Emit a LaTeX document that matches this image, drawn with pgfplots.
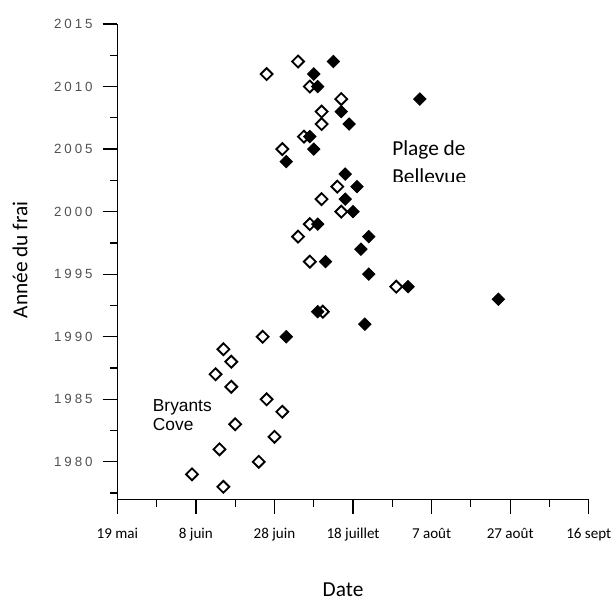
\documentclass[border=0pt]{standalone}
\usepackage{pgfplots}
\pgfplotsset{compat=1.18}
\usepackage{fontspec}
\setmainfont{Carlito}
\newfontfamily\arialfont{Liberation Sans}
\newfontfamily\ytfont[LetterSpace=22]{Liberation Sans}
\definecolor{ygray}{HTML}{505050}
\begin{document}
\begin{tikzpicture}[x=1pt,y=1pt]
\begin{axis}[
  at={(0,0)}, anchor=south west,
  scale only axis, width=353.55pt, height=356.5pt,
  xmin=0, xmax=120, ymin=1977, ymax=2015,
  axis x line*=bottom, axis y line*=left,
  axis line style={line width=0.9pt, -},
  xtick={0,20,...,120},
  xticklabels={19 mai, 8 juin, 28 juin, 18 juillet, 7 août, 27 août, 16 sept},
  minor xtick={10,30,...,110},
  ytick={1980,1985,...,2015},
  yticklabels={1980,1985,1990,1995,2000,2005,2010,2015},
  minor ytick={1977.5,1982.5,...,2012.5},
  tick align=outside,
  major tick length=11pt, minor tick length=5.5pt,
  tick style={line width=0.9pt, black},
  xticklabel style={font=\fontsize{11.3}{13}\selectfont, yshift=-7pt},
  yticklabel style={font=\fontsize{10}{11}\ytfont, text=ygray, xshift=-4pt},
  clip=false,
]
\addplot[only marks, mark=square*, mark size=3.15pt, mark options={rotate=45, fill=white, draw=black, line width=1.4pt}] coordinates {
(38,2011) (46,2012) (49,2010) (57,2009) (52,2008) (52,2007) (47.5,2006) (42,2005)
(56,2002) (52,2001) (57,2000) (49,1999) (46,1998) (49,1996) (71,1994) (52.3,1992) (37,1990)
(27,1989) (29,1988) (25,1987) (29,1986) (38,1985) (42,1984) (30,1983) (40,1982)
(26,1981) (36,1980) (19,1979) (27,1978)
};
\addplot[only marks, mark=square*, mark size=3.3pt, mark options={rotate=45, fill=black, draw=black, line width=0.6pt}] coordinates {
(55,2012) (50,2011) (51,2010) (77,2009) (57,2008) (59,2007) (49,2006) (50,2005) (43,2004)
(58,2003) (61,2002) (58,2001) (60,2000) (51,1999) (64,1998) (62,1997) (53,1996) (64,1995)
(74,1994) (97,1993) (51,1992) (63,1991) (43,1990)
};
\end{axis}
\node[rotate=90, font=\fontsize{16}{19}\selectfont] at (-73,179.5) {Année du frai};
\node[inner sep=0pt, font=\fontsize{16}{19}\selectfont] at (169.3,-67.5) {Date};
\begin{scope}
\clip (200,238.7) rectangle (270,275);
\node[anchor=base west, align=left, inner sep=0pt, font=\fontsize{16}{20.7}\selectfont] at (206,237.2) {Plage de\\Bellevue};
\end{scope}
\node[anchor=base west, align=left, inner sep=0pt, font=\fontsize{13}{13.9}\arialfont] at (26.5,52) {Bryants\\Cove};
\pgfresetboundingbox
\path[use as bounding box] (-88,-78.5) rectangle (374,374.5);
\end{tikzpicture}
\end{document}
